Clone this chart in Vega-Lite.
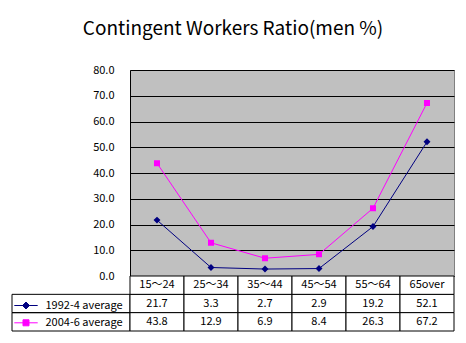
{
  "$schema": "https://vega.github.io/schema/vega-lite/v6.json",
  "padding": {"left": 11, "right": 13, "top": 19, "bottom": 13},
  "autosize": {"type": "pad"},
  "title": {"text": "Contingent Workers Ratio(men %)", "fontSize": 19, "fontWeight": "normal", "font": "Noto Sans CJK JP", "offset": 25, "anchor": "middle", "color": "black"},
  "datasets": {
    "d": [
      {"series": "1992-4 average", "cat": "15〜24", "value": 21.7},
      {"series": "1992-4 average", "cat": "25〜34", "value": 3.3},
      {"series": "1992-4 average", "cat": "35〜44", "value": 2.7},
      {"series": "1992-4 average", "cat": "45〜54", "value": 2.9},
      {"series": "1992-4 average", "cat": "55〜64", "value": 19.2},
      {"series": "1992-4 average", "cat": "65over", "value": 52.1},
      {"series": "2004-6 average", "cat": "15〜24", "value": 43.8},
      {"series": "2004-6 average", "cat": "25〜34", "value": 12.9},
      {"series": "2004-6 average", "cat": "35〜44", "value": 6.9},
      {"series": "2004-6 average", "cat": "45〜54", "value": 8.4},
      {"series": "2004-6 average", "cat": "55〜64", "value": 26.3},
      {"series": "2004-6 average", "cat": "65over", "value": 67.2}
    ]
  },
  "columns": 2,
  "spacing": 0,
  "bounds": "flush",
  "concat": [
    {
      "width": 118,
      "height": 206,
      "data": {"values": [{"a": 1}]},
      "mark": {"type": "text"},
      "encoding": {"text": {"value": ""}}
    },
    {
      "width": 324,
      "height": 206,
      "view": {"fill": "#C0C0C0", "stroke": "#808080"},
      "data": {"name": "d"},
      "encoding": {
        "x": {"field": "cat", "type": "ordinal", "sort": null, "scale": {"type": "point", "padding": 0.5}, "axis": null},
        "y": {"field": "value", "type": "quantitative", "scale": {"domain": [0, 80]},
              "axis": {"values": [0, 10, 20, 30, 40, 50, 60, 70, 80], "format": ".1f", "title": null, "grid": true, "gridColor": "black", "gridOpacity": 1, "ticks": false, "labelPadding": 16, "domainColor": "black", "labelFontSize": 11, "labelColor": "black", "labelFont": "Noto Sans CJK JP"}},
        "color": {"field": "series", "type": "nominal", "scale": {"domain": ["1992-4 average", "2004-6 average"], "range": ["#000080", "#FF00FF"]},
                  "legend": {"orient": "none", "legendX": 8.5, "legendY": 230, "title": null, "direction": "vertical", "symbolSize": 40, "labelFontSize": 11, "labelColor": "black", "labelFont": "Noto Sans CJK JP", "labelOffset": 14, "rowPadding": 5.3, "padding": 0, "zindex": 5,
                             "encode": {"symbols": {"update": {"stroke": {"scale": "color", "field": "value"}, "strokeWidth": {"value": 1}, "fill": {"scale": "color", "field": "value"}, "opacity": {"value": 1}}}}}}
      },
      "layer": [
        {
          "mark": {"type": "line", "strokeWidth": 1}
        },
        {
          "mark": {"type": "point", "filled": true, "opacity": 1, "size": 40, "strokeWidth": 0},
          "encoding": {
            "shape": {"field": "series", "type": "nominal", "scale": {"domain": ["1992-4 average", "2004-6 average"], "range": ["M-3.7,0H3.7M0,-1.1L1.1,0L0,1.1L-1.1,0Z", "M-3.7,0H3.7M-0.95,-0.95H0.95V0.95H-0.95Z"]},
                      "legend": {"orient": "none", "legendX": 8.5, "legendY": 230, "title": null, "direction": "vertical", "symbolSize": 40, "labelFontSize": 11, "labelColor": "black", "labelFont": "Noto Sans CJK JP", "labelOffset": 14, "rowPadding": 5.3, "padding": 0, "zindex": 5}}
          }
        }
      ]
    },
    {
      "width": 118,
      "height": 55,
      "data": {"name": "d"},
      "transform": [{"filter": "datum.cat === '15〜24'"}],
      "mark": {"type": "rect", "fill": "transparent", "stroke": "black", "strokeWidth": 1},
      "encoding": {
        "y": {"field": "series", "type": "nominal", "scale": {"type": "band", "domain": ["header", "1992-4 average", "2004-6 average"], "paddingInner": 0, "paddingOuter": 0}, "axis": null}
      }
    },
    {
      "width": 324,
      "height": 55,
      "data": {"name": "d"},
      "encoding": {
        "x": {"field": "cat", "type": "nominal", "sort": null, "scale": {"type": "band", "domain": ["15〜24", "25〜34", "35〜44", "45〜54", "55〜64", "65over"], "paddingInner": 0, "paddingOuter": 0}, "axis": null},
        "y": {"field": "series", "type": "nominal", "scale": {"type": "band", "domain": ["header", "1992-4 average", "2004-6 average"], "paddingInner": 0, "paddingOuter": 0}, "axis": null}
      },
      "layer": [
        {"mark": {"type": "rect", "fill": "white", "stroke": "black", "strokeWidth": 1}},
        {"mark": {"type": "text", "fontSize": 11, "color": "black", "font": "Noto Sans CJK JP"},
         "encoding": {"text": {"field": "value", "type": "quantitative", "format": ".1f"}}},
        {"transform": [{"filter": "datum.series === '1992-4 average'"}],
         "mark": {"type": "rect", "fill": "white", "stroke": "black", "strokeWidth": 1},
         "encoding": {"y": {"datum": "header", "type": "nominal"}}},
        {"transform": [{"filter": "datum.series === '1992-4 average'"}],
         "mark": {"type": "text", "fontSize": 11, "color": "black", "font": "Noto Sans CJK JP"},
         "encoding": {"y": {"datum": "header", "type": "nominal"}, "text": {"field": "cat", "type": "nominal"}}}
      ]
    }
  ],
  "config": {
    "view": {"stroke": null},
    "font": "Noto Sans CJK JP",
    "background": "white"
  }
}
